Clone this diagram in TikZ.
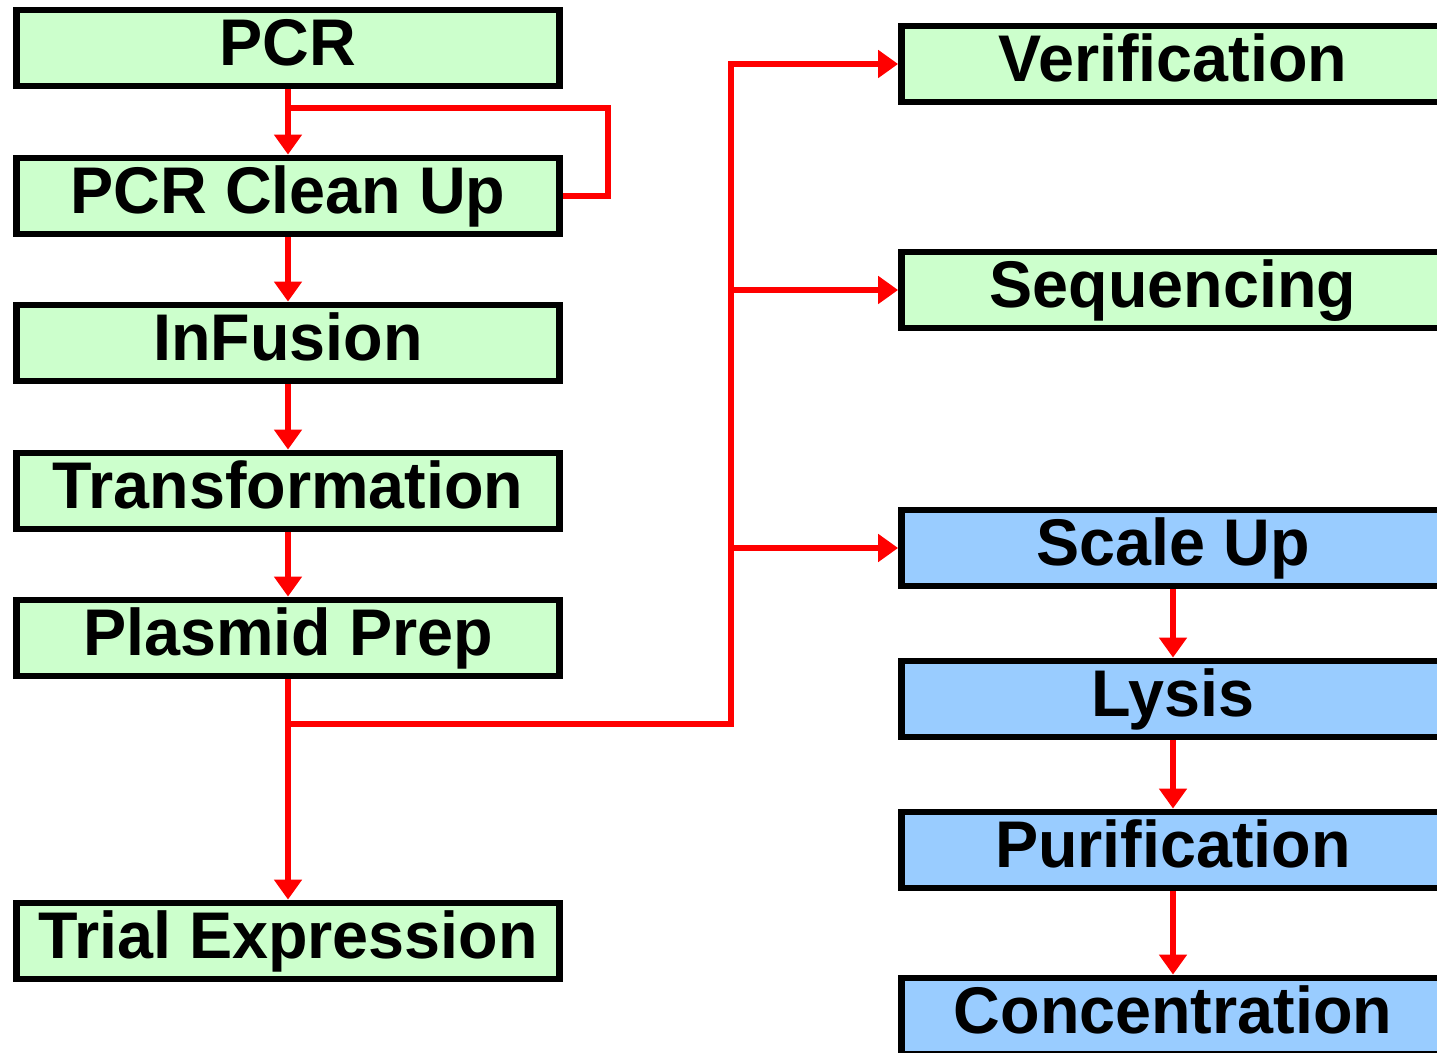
\documentclass[tikz,border=0pt]{standalone}
\usepackage{fontspec}
\setmainfont{Liberation Sans}
\newfontfamily\boxfont[FakeStretch=0.98]{Liberation Sans Bold}
\usetikzlibrary{arrows.meta}
\definecolor{lgreen}{HTML}{CCFFCC}
\definecolor{lblue}{HTML}{99CCFF}
\begin{document}
\begin{tikzpicture}[x=0.5pt,y=-0.5pt,
  box/.style={draw=black,line width=3.4pt,minimum width=271.5pt,minimum height=38pt,inner sep=0pt,
    text height=17.6pt,text depth=0pt,
    font=\boxfont\fontsize{33}{38}\selectfont},
  gbox/.style={box,fill=lgreen},
  bbox/.style={box,fill=lblue},
  conn/.style={draw=red,line width=2.6pt},
  arr/.style={conn,-{Triangle[width=13.5pt,length=10pt]}}]
\clip (0,0) rectangle (1437,1053);
% left column
\node[gbox] (pcr)     at (288,48)  {PCR};
\node[gbox] (clean)   at (288,196) {PCR Clean Up};
\node[gbox] (infus)   at (288,343) {InFusion};
\node[gbox] (transf)  at (288,491) {Transformation};
\node[gbox] (plasmid) at (288,638) {Plasmid Prep};
\node[gbox] (trial)   at (288,941) {Trial Expression};
% right column
\node[gbox] (verif)   at (1173,64)   {Verification};
\node[gbox] (seq)     at (1173,290)  {Sequencing};
\node[bbox] (scale)   at (1173,548)  {Scale Up};
\node[bbox] (lysis)   at (1173,699)  {Lysis};
\node[bbox] (purif)   at (1173,850)  {Purification};
\node[bbox] (conc)    at (1173,1016) {Concentration};
% coordinates
\coordinate (j1) at (288,108);
\coordinate (lp) at (608,108);
\coordinate (j2) at (288,724);
\coordinate (bus) at (731,724);
% connectors
\draw[arr] (pcr) -- (clean);
\draw[conn] (clean.east) -| (lp) -- (j1);
\draw[arr] (clean) -- (infus);
\draw[arr] (infus) -- (transf);
\draw[arr] (transf) -- (plasmid);
\draw[arr] (plasmid) -- (trial);
\draw[arr] (j2) -- (bus) |- (verif.west);
\draw[arr] (bus |- seq.west) -- (seq.west);
\draw[arr] (bus |- scale.west) -- (scale.west);
\draw[arr] (scale) -- (lysis);
\draw[arr] (lysis) -- (purif);
\draw[arr] (purif) -- (conc);
\end{tikzpicture}
\end{document}
